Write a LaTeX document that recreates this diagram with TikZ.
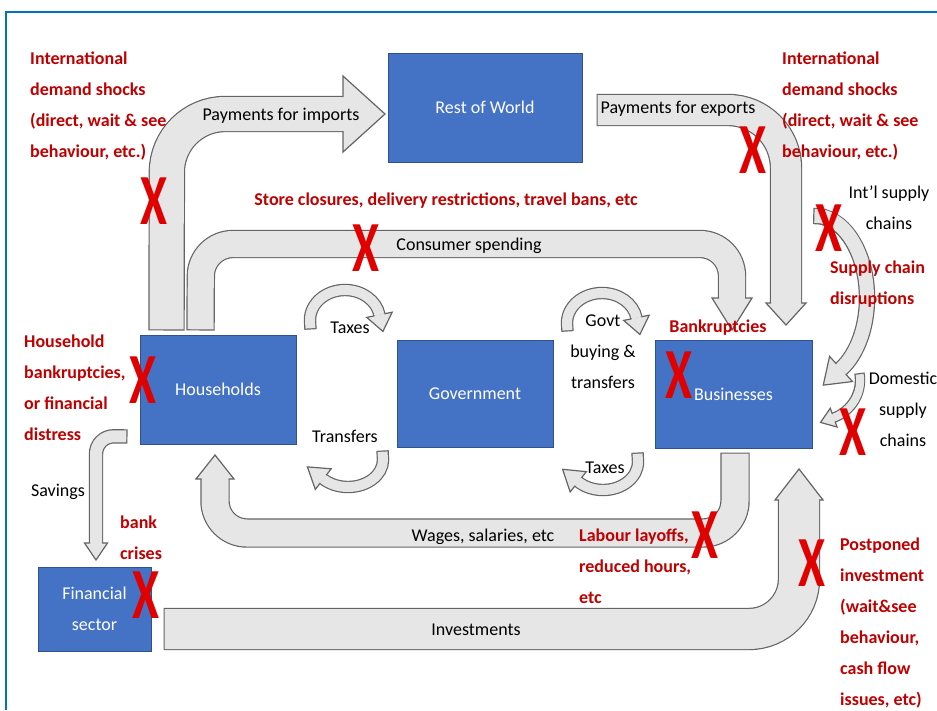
\documentclass[tikz,border=0pt]{standalone}
\usepackage{fontspec}
\setmainfont{Carlito}
\usetikzlibrary{calc}
\definecolor{sectorblue}{RGB}{68,114,196}
\definecolor{sectoredge}{RGB}{47,82,143}
\definecolor{flowfill}{RGB}{231,230,230}
\definecolor{flowedge}{RGB}{100,100,100}
\definecolor{crisisred}{RGB}{192,0,0}
\definecolor{failred}{RGB}{225,0,0}
\definecolor{framblue}{RGB}{0,112,192}
\tikzset{
  sector/.style = {rectangle, draw=sectoredge, line width=1pt, fill=sectorblue, text=white, inner sep=0, align=center, font=\fontsize{18}{31}\selectfont},
  lbl/.style    = {inner sep=0, align=center, font=\fontsize{18}{31}\selectfont},
  warn/.style   = {inner sep=0, align=left, anchor=west, text=crisisred, font=\fontsize{18}{31}\selectfont\bfseries},
  fail/.style   = {inner sep=0, text=failred, font=\fontsize{72}{72}\selectfont\bfseries},
  flow/.style   = {draw=flowfill, line width=#1, shorten <=1.2pt, preaction={draw=flowedge, line width=#1+2.4pt, shorten <=0pt}},
  headline/.style = {draw=flowedge, line width=1.2pt, line join=miter}
}
\newcommand\flowhead[5]{%
  \fill[flowfill] ($(#1)+(#2+90:#4)$) -- ($(#1)+(#2:#5)$) -- ($(#1)+(#2-90:#4)$) -- cycle;
  \draw[headline] ($(#1)+(#2+90:#3)$) -- ($(#1)+(#2+90:#4)$) -- ($(#1)+(#2:#5)$) -- ($(#1)+(#2-90:#4)$) -- ($(#1)+(#2-90:#3)$);}
\newcommand\failX{\scalebox{0.68}[1]{X}}

\begin{document}
\begin{tikzpicture}[x=1pt, y=-1pt]
  \useasboundingbox (0,0) rectangle (937,710);
  \fill[white] (0,0) rectangle (937,710);
  \draw[framblue, line width=2.5pt] (6,710) -- (6,12) -- (937,12);

  \node[sector, minimum width=194, minimum height=109] (row) at (485,107.5) {Rest of World};
  \node[sector, minimum width=156, minimum height=109] (hh)  at (218,389.5) {Households};
  \node[sector, minimum width=156, minimum height=107] (gov) at (475,393.5) {Government};
  \node[sector, minimum width=157, minimum height=108] (bus) at (733.5,394) {Businesses};
  \node[sector, minimum width=113, minimum height=84]  (fin) at (94.5,609) {Financial\\sector};

  % big flows
  \draw[flow=34, rounded corners=58] ([shift={(27,-4)}]hh.north west) -- (167,114) -- (343,114);
  \flowhead{343,114}{0}{17}{38}{42}
  \draw[flow=30, rounded corners=58] ([shift={(14,2.5)}]row.east) -- (786,110) -- (786,303);
  \flowhead{786,303}{90}{15}{20}{22}
  \draw[flow=26, rounded corners=32] ([shift={(61,-4)}]hh.north west) -- (201,244) -- (732,244) -- (732,298);
  \flowhead{732,298}{90}{13}{20}{32}
  \draw[flow=27, rounded corners=32] ([shift={(1.5,4)}]bus.south) -- (735,533) -- (215,533) -- (215,479);
  \flowhead{215,479}{-90}{13.5}{19}{24}
  \draw[flow=40, rounded corners=50] ([shift={(12,20)}]fin.east) -- (799,629) -- (799,500);
  \flowhead{799,500}{-90}{20}{24}{31}
  \draw[flow=12, rounded corners=18] ([shift={(-12,-8)}]hh.south west) -- (96,436) -- (96,543);
  \flowhead{96,543}{90}{6}{11.5}{17}

  % small curved flows
  \draw[flow=10] ([shift={(14,-5)}]hh.north east) -- (310,320) arc[start angle=180, end angle=350, x radius=35, y radius=30] coordinate (tx1);
  \flowhead{tx1}{78.4}{5}{13}{17}
  \draw[flow=10] ([shift={(-14,3)}]gov.south west) -- (383,460) arc[start angle=0, end angle=135, x radius=35, y radius=27] coordinate (tr1);
  \flowhead{tr1}{217.6}{5}{13}{20}
  \draw[flow=10] ([shift={(14,-8)}]gov.north east) -- (567,323) arc[start angle=180, end angle=350, x radius=35, y radius=30] coordinate (gb1);
  \flowhead{gb1}{78.4}{5}{13}{17}
  \draw[flow=10] ([shift={(-17,4)}]bus.south west) -- (638,462) arc[start angle=0, end angle=135, x radius=35, y radius=28] coordinate (tx2);
  \flowhead{tx2}{218.7}{5}{13}{20}
  \coordinate (intl) at (813.2,216);
  \draw[flow=14] (intl) arc[start angle=268, end angle=420, x radius=52, y radius=82] coordinate (is1);
  \flowhead{is1}{137.7}{7}{17}{24}
  \coordinate (dom) at (859.4,373.1);
  \draw[flow=8] (dom) arc[start angle=-10, end angle=70, radius=40] coordinate (ds1);
  \flowhead{ds1}{160}{4}{10}{14}

  % labels
  \node[warn] (w1) at (30,106) {International\\demand shocks\\(direct, wait \& see\\behaviour, etc.)};
  \node[warn] (w2) at (782,106) {International\\demand shocks\\(direct, wait \& see\\behaviour, etc.)};
  \node[lbl] (l1) at (281,116) {Payments for imports};
  \node[lbl] (l2) at (678,109) {Payments for exports};
  \node[warn, anchor=center] (w3) at (446,201) {Store closures, delivery restrictions, travel bans, etc};
  \node[lbl] (l3) at (469,246) {Consumer spending};
  \node[lbl] (l4) at (889,208) {Int’l supply\\chains};
  \node[warn] (w4) at (830,284) {Supply chain\\disruptions};
  \node[lbl] (l5) at (350,328) {Taxes};
  \node[lbl] (l6) at (603,352) {Govt\\buying \&\\transfers};
  \node[warn, anchor=center] (w5) at (718,328) {Bankruptcies};
  \node[warn] (w6) at (24,388) {Household\\bankruptcies,\\or financial\\distress};
  \node[lbl] (l7) at (903,409) {Domestic\\supply\\chains};
  \node[lbl] (l8) at (345,436) {Transfers};
  \node[lbl] (l9) at (605,468) {Taxes};
  \node[lbl] (l10) at (58,492) {Savings};
  \node[warn] (w7) at (120,538) {bank\\crises};
  \node[lbl] (l11) at (483,537) {Wages, salaries, etc};
  \node[warn] (w8) at (579,566) {Labour layoffs,\\reduced hours,\\etc};
  \node[lbl] (l12) at (476,630) {Investments};
  \node[warn] (w9) at (840,623) {Postponed\\investment\\(wait\&see\\behaviour,\\cash flow\\issues, etc)};

  % shocks
  \node[fail] (x1) at (154,201) {\failX};
  \node[fail] (x2) at (366,248) {\failX};
  \node[fail] (x3) at (753,150) {\failX};
  \node[fail] (x4) at (829,228) {\failX};
  \node[fail] (x5) at (143,380) {\failX};
  \node[fail] (x6) at (679,375) {\failX};
  \node[fail] (x7) at (853,432) {\failX};
  \node[fail] (x8) at (705,535) {\failX};
  \node[fail] (x9) at (812,563) {\failX};
  \node[fail] (x10) at (146,595) {\failX};
\end{tikzpicture}
\end{document}
